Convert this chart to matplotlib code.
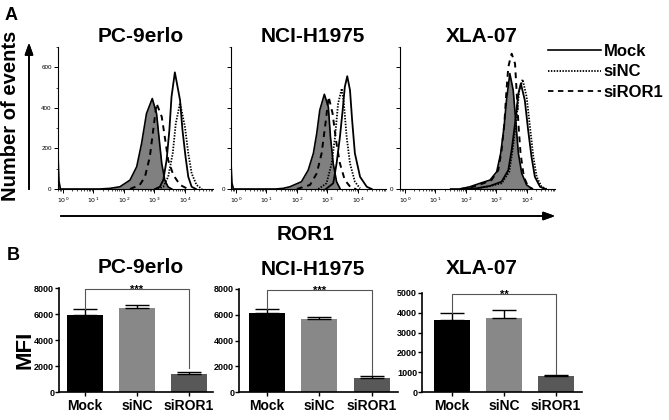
import matplotlib
matplotlib.use("Agg")
import matplotlib.pyplot as plt
from matplotlib.lines import Line2D
import numpy as np

plt.rcParams['font.family'] = ['Liberation Sans', 'DejaVu Sans']

# ---- panel A: flow histograms (x in log10 decades, y = number of events) ----
pc9_iso_x = [-0.16, -0.13, -0.08, 1.2, 1.54, 1.87, 2.20, 2.42, 2.58, 2.74, 2.93, 3.07, 3.16, 3.24, 3.34, 3.45, 3.57]
pc9_iso_y = [175, 40, 0, 0, 3, 11, 44, 110, 225, 372, 446, 372, 241, 126, 44, 10, 0]
pc9_siror1_x = [2.20, 2.52, 2.69, 2.85, 2.96, 3.07, 3.24, 3.34, 3.45, 3.62, 3.84, 4.10]
pc9_siror1_y = [0, 20, 60, 159, 290, 422, 356, 257, 143, 69, 20, 0]
pc9_sinc_x = [3.11, 3.29, 3.45, 3.60, 3.70, 3.84, 4.00, 4.11, 4.22, 4.38, 4.56]
pc9_sinc_y = [0, 11, 60, 176, 323, 424, 306, 176, 77, 20, 0]
pc9_mock_x = [3.02, 3.18, 3.29, 3.40, 3.49, 3.56, 3.67, 3.84, 3.92, 4.02, 4.11, 4.22, 4.36]
pc9_mock_y = [0, 11, 44, 143, 290, 454, 575, 438, 290, 159, 60, 11, 0]

h1975_iso_x = [-0.16, -0.13, -0.08, 1.3, 1.54, 1.77, 2.15, 2.37, 2.54, 2.65, 2.75, 2.90, 3.03, 3.10, 3.19, 3.30, 3.41]
h1975_iso_y = [130, 30, 0, 0, 3, 11, 36, 93, 176, 274, 389, 467, 405, 257, 126, 36, 3]
h1975_siror1_x = [2.0, 2.43, 2.65, 2.81, 2.95, 3.04, 3.17, 3.28, 3.41, 3.57, 3.79, 3.95]
h1975_siror1_y = [0, 20, 77, 176, 339, 455, 372, 241, 126, 44, 3, 0]
h1975_sinc_x = [2.7, 2.97, 3.14, 3.25, 3.35, 3.47, 3.54, 3.63, 3.74, 3.90, 4.07]
h1975_sinc_y = [0, 28, 126, 257, 421, 495, 421, 257, 126, 36, 3]
h1975_mock_x = [2.95, 3.19, 3.30, 3.41, 3.50, 3.57, 3.65, 3.74, 3.81, 3.90, 4.07, 4.29, 4.45]
h1975_mock_y = [0, 28, 126, 257, 389, 503, 556, 487, 339, 176, 60, 11, 0]

xla_iso_x = [1.5, 1.80, 2.13, 2.46, 2.79, 3.01, 3.14, 3.25, 3.33, 3.44, 3.55, 3.64, 3.72, 3.83, 3.99, 4.15]
xla_iso_y = [0, 0, 11, 28, 44, 85, 176, 306, 438, 569, 487, 323, 176, 77, 20, 3]
xla_siror1_x = [1.8, 2.13, 2.57, 2.84, 3.06, 3.17, 3.26, 3.33, 3.39, 3.45, 3.50, 3.56, 3.61, 3.66, 3.72, 3.79, 3.90, 4.04, 4.2]
xla_siror1_y = [0, 6, 28, 44, 93, 192, 323, 487, 601, 640, 667, 640, 618, 487, 323, 176, 60, 11, 0]
xla_sinc_x = [2.2, 2.68, 3.17, 3.42, 3.53, 3.64, 3.75, 3.86, 3.99, 4.10, 4.21, 4.32, 4.48, 4.65]
xla_sinc_y = [0, 11, 28, 85, 192, 323, 487, 540, 454, 306, 159, 60, 11, 0]
xla_mock_x = [2.0, 2.35, 2.79, 3.17, 3.39, 3.50, 3.61, 3.72, 3.80, 3.93, 4.04, 4.15, 4.26, 4.43, 4.6]
xla_mock_y = [0, 3, 15, 36, 93, 192, 323, 471, 520, 438, 290, 159, 60, 11, 0]

# ---- panel B: MFI bars ----
categories = ['Mock', 'siNC', 'siROR1']
pc9_mfi = [5950, 6450, 1400]
pc9_err = [450, 230, 150]
h1975_mfi = [6100, 5650, 1080]
h1975_err = [350, 200, 160]
xla_mfi = [3650, 3720, 810]
xla_err = [340, 420, 50]
stars = ['***', '***', '**']
cell_lines = ['PC-9erlo', 'NCI-H1975', 'XLA-07']

W, H = 669, 420
fig = plt.figure(figsize=(W / 100, H / 100), dpi=100)


def px_axes(left, top, right, bottom):
    return fig.add_axes([left / W, 1 - bottom / H, (right - left) / W, (bottom - top) / H])


def draw_hist(ax, iso, siror1, sinc, mock, full_labels):
    ax.fill_between(iso[0], iso[1], color='#808080', lw=0, zorder=1)
    ax.plot(iso[0], iso[1], color='black', lw=1.2, zorder=2)
    ax.plot(siror1[0], siror1[1], color='black', lw=1.4, ls=(0, (3, 2.5)), zorder=3)
    ax.plot(sinc[0], sinc[1], color='black', lw=1.3, ls=(0, (0.8, 0.8)), zorder=3)
    ax.plot(mock[0], mock[1], color='black', lw=1.3, zorder=3)
    ax.set_xlim(-0.16, 4.92)
    ax.set_ylim(0, 700)
    for s in ['top', 'right']:
        ax.spines[s].set_visible(False)
    for s in ['left', 'bottom']:
        ax.spines[s].set_linewidth(0.8)
    ax.set_yticks([0, 200, 400, 600])
    ax.set_yticks(np.arange(0, 701, 100), minor=True)
    if full_labels:
        ax.set_yticklabels(['0', '200', '400', '600'])
    else:
        ax.set_yticklabels(['0', '', '', ''])
    ax.set_xticks(range(5))
    ax.set_xticklabels([r'$10^{%d}$' % d for d in range(5)])
    minor = [d + np.log10(k) for d in range(-1, 5) for k in range(2, 10)]
    ax.set_xticks([m for m in minor if -0.16 < m < 4.92], minor=True)
    ax.tick_params(which='major', length=3, width=0.7, labelsize=4.5, pad=1.5)
    ax.tick_params(which='minor', length=1.6, width=0.5)


axA1 = px_axes(58, 47, 213, 189)
axA2 = px_axes(231, 47, 386, 189)
axA3 = px_axes(400, 47, 555, 189)
draw_hist(axA1, (pc9_iso_x, pc9_iso_y), (pc9_siror1_x, pc9_siror1_y),
          (pc9_sinc_x, pc9_sinc_y), (pc9_mock_x, pc9_mock_y), True)
draw_hist(axA2, (h1975_iso_x, h1975_iso_y), (h1975_siror1_x, h1975_siror1_y),
          (h1975_sinc_x, h1975_sinc_y), (h1975_mock_x, h1975_mock_y), False)
draw_hist(axA3, (xla_iso_x, xla_iso_y), (xla_siror1_x, xla_siror1_y),
          (xla_sinc_x, xla_sinc_y), (xla_mock_x, xla_mock_y), False)

# legend for panel A
handles = [Line2D([], [], color='black', lw=1.2),
           Line2D([], [], color='black', lw=1.3, ls=(0, (0.8, 0.8))),
           Line2D([], [], color='black', lw=1.3, ls=(0, (3, 2.5)))]
fig.legend(handles, ['Mock', 'siNC', 'siROR1'], loc='center left',
           bbox_to_anchor=(548 / W, 1 - 72 / H), frameon=False,
           prop={'weight': 'bold', 'size': 12}, handlelength=3.15,
           handletextpad=0.2, labelspacing=0.35, borderpad=0, borderaxespad=0)

# axis arrows and labels for panel A
arrow = dict(arrowstyle='-|>,head_length=0.7,head_width=0.25', color='black', lw=1.2)
fig.add_artist(plt.annotate('', xy=(29 / W, 1 - 40 / H), xytext=(29 / W, 1 - 192 / H),
                            xycoords='figure fraction', arrowprops=arrow))
fig.add_artist(plt.annotate('', xy=(558 / W, 1 - 216 / H), xytext=(58 / W, 1 - 216 / H),
                            xycoords='figure fraction', arrowprops=arrow))
fig.text(11 / W, 1 - 116 / H, 'Number of events', rotation=90, fontsize=14.5,
         fontweight='bold', ha='center', va='center')
fig.text(306 / W, 1 - 240 / H, 'ROR1', fontsize=15, fontweight='bold', ha='center', va='baseline')
fig.text(5 / W, 1 - 20 / H, 'A', fontsize=13, fontweight='bold', ha='left', va='baseline')
fig.text(7 / W, 1 - 260 / H, 'B', fontsize=13, fontweight='bold', ha='left', va='baseline')

for name, cx in zip(cell_lines, [141, 313, 482]):
    fig.text(cx / W, 1 - 42 / H, name, fontsize=15, fontweight='bold', ha='center', va='baseline')
for name, cx, by in zip(cell_lines, [141, 313, 482], [273, 275, 274]):
    fig.text(cx / W, 1 - by / H, name, fontsize=15, fontweight='bold', ha='center', va='baseline')

# ---- panel B ----
bar_colors = ['#000000', '#888888', '#585858']


def draw_bars(ax, vals, errs, ymax, step, star, xlim, right_gap, text_off):
    x = np.arange(len(categories))
    ax.bar(x, vals, width=0.69, color=bar_colors, edgecolor='none', zorder=2)
    ax.errorbar(x, vals, yerr=[np.zeros(len(vals)), errs], fmt='none', ecolor='black',
                elinewidth=1.0, capsize=8.3, capthick=1.0, zorder=3)
    ax.set_xlim(*xlim)
    ax.set_ylim(0, ymax)
    ax.set_yticks(np.arange(0, ymax + 1, step))
    ax.set_xticks(x)
    ax.set_xticklabels(categories, fontsize=10, fontweight='bold')
    for lab in ax.get_yticklabels():
        lab.set_fontweight('bold')
    ax.tick_params(axis='y', length=3, width=1, labelsize=6.5, pad=0.5)
    ax.tick_params(axis='x', length=3, width=1, pad=2)
    for s in ['top', 'right']:
        ax.spines[s].set_visible(False)
    for s in ['left', 'bottom']:
        ax.spines[s].set_linewidth(1.2)
    top = ymax * 0.99
    left_end = vals[0] + errs[0]
    right_end = vals[2] + errs[2] + right_gap
    ax.plot([0, 0, 2, 2], [left_end, top, top, right_end], color='#555555', lw=0.8,
            clip_on=False, zorder=4)
    ax.text(1, top - text_off, star, fontsize=8, fontweight='bold', ha='center',
            va='baseline', clip_on=False)


axB1 = px_axes(59, 288, 213, 392)
axB2 = px_axes(239, 289, 398, 392)
axB3 = px_axes(422, 293, 582, 392)
draw_bars(axB1, pc9_mfi, pc9_err, 8000, 2000, stars[0], (-0.5, 2.46), 300, 330)
draw_bars(axB2, h1975_mfi, h1975_err, 8000, 2000, stars[1], (-0.53, 2.5), 100, 330)
draw_bars(axB3, xla_mfi, xla_err, 5000, 1000, stars[2], (-0.58, 2.5), 50, 210)

fig.text(25 / W, 1 - 350 / H, 'MFI', rotation=90, fontsize=16, fontweight='bold',
         ha='center', va='center')

fig.savefig('out.png', dpi=100)
